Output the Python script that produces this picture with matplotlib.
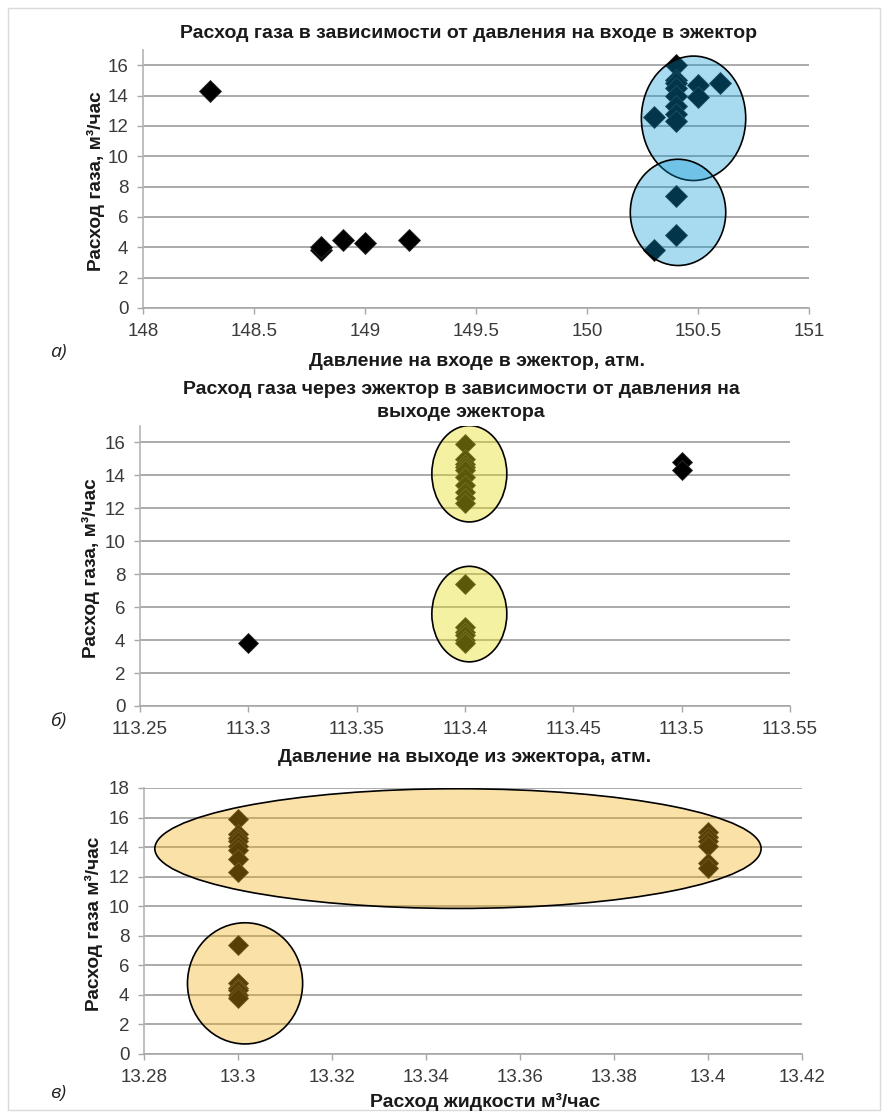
import matplotlib
matplotlib.use("Agg")
import matplotlib.pyplot as plt
from matplotlib.patches import Ellipse, Rectangle

# ---------------- data ----------------
# panel a: gas flow vs inlet pressure
a_x = [148.3, 148.8, 148.8, 148.9, 149.0, 149.2,
       150.3, 150.3,
       150.4, 150.4, 150.4, 150.4, 150.4, 150.4, 150.4, 150.4, 150.4, 150.4,
       150.5, 150.5, 150.6]
a_y = [14.3, 3.8, 4.0, 4.5, 4.3, 4.5,
       12.6, 3.8,
       16.0, 15.0, 14.8, 14.5, 14.0, 13.3, 12.8, 12.3, 7.4, 4.8,
       14.7, 13.9, 14.8]
a_xticks = [148, 148.5, 149, 149.5, 150, 150.5, 151]
a_xticklabels = ["148", "148.5", "149", "149.5", "150", "150.5", "151"]
a_yticks = [0, 2, 4, 6, 8, 10, 12, 14, 16]

# panel b: gas flow vs outlet pressure
b_x = [113.3, 113.5, 113.5,
       113.4, 113.4, 113.4, 113.4, 113.4, 113.4, 113.4, 113.4, 113.4, 113.4,
       113.4, 113.4, 113.4, 113.4, 113.4, 113.4]
b_y = [3.8, 14.8, 14.3,
       15.9, 15.0, 14.7, 14.5, 14.3, 13.9, 13.4, 13.0, 12.6, 12.3,
       7.4, 4.8, 4.5, 4.3, 4.0, 3.8]
b_xticks = [113.25, 113.3, 113.35, 113.4, 113.45, 113.5, 113.55]
b_xticklabels = ["113.25", "113.3", "113.35", "113.4", "113.45", "113.5", "113.55"]
b_yticks = [0, 2, 4, 6, 8, 10, 12, 14, 16]

# panel c: gas flow vs liquid flow
c_x = [13.3, 13.3, 13.3, 13.3, 13.3, 13.3, 13.3, 13.3,
       13.4, 13.4, 13.4, 13.4, 13.4, 13.4,
       13.3, 13.3, 13.3, 13.3, 13.3, 13.3]
c_y = [15.9, 14.9, 14.6, 14.4, 14.1, 13.8, 13.2, 12.3,
       15.0, 14.7, 14.4, 14.1, 12.9, 12.6,
       7.4, 4.8, 4.5, 4.3, 4.0, 3.8]
c_xticks = [13.28, 13.30, 13.32, 13.34, 13.36, 13.38, 13.40, 13.42]
c_xticklabels = ["13.28", "13.3", "13.32", "13.34", "13.36", "13.38", "13.4", "13.42"]
c_yticks = [0, 2, 4, 6, 8, 10, 12, 14, 16, 18]

# highlight ellipses (center x, center y, width, height)
a_ell = [(150.48, 12.5, 0.47, 8.2), (150.41, 6.3, 0.43, 7.0)]
b_ell = [(113.402, 14.1, 0.0346, 5.85), (113.402, 5.58, 0.0346, 5.8)]
c_ell = [(13.3468, 13.9, 0.129, 8.1), (13.3015, 4.78, 0.0245, 8.2)]

# ---------------- figure ----------------
W, H = 888, 1118
fig = plt.figure(figsize=(W / 100, H / 100), dpi=100)
plt.rcParams['font.family'] = ['Liberation Sans', 'DejaVu Sans']

fig.patches.append(Rectangle((8 / W, 1 - 1110 / H), 872 / W, 1102 / H,
                             transform=fig.transFigure, fill=False,
                             edgecolor='#dadada', linewidth=1.0))


def px_axes(left, right, top, bottom):
    return fig.add_axes([left / W, 1 - bottom / H, (right - left) / W, (bottom - top) / H])


def style(ax, xlim, ylim, xticks, xticklabels, yticks):
    ax.set_xlim(*xlim)
    ax.set_ylim(*ylim)
    ax.set_xticks(xticks)
    ax.set_xticklabels(xticklabels)
    ax.set_yticks(yticks)
    for s in ('top', 'right'):
        ax.spines[s].set_visible(False)
    ax.spines['left'].set_color('#b4b4b4')
    ax.spines['bottom'].set_color('#a8a8a8')
    ax.spines['left'].set_linewidth(1.2)
    ax.spines['bottom'].set_linewidth(1.2)
    ax.tick_params(axis='both', direction='out', length=4.5, width=1.0,
                   color='#a8a8a8', labelsize=13.5, labelcolor='#3a3a3a', pad=6)
    ax.yaxis.grid(True, color='#a4a4a4', linewidth=1.3)
    ax.set_axisbelow(True)


def draw(ax, xs, ys, ells, fc, ms):
    ax.plot(xs, ys, linestyle='none', marker='D', markersize=ms,
            color='black', markeredgecolor='#2a2a2a', markeredgewidth=0.6, zorder=3)
    for (cx, cy, w, h) in ells:
        ax.add_patch(Ellipse((cx, cy), w, h, facecolor=fc, edgecolor='black',
                             linewidth=1.2, zorder=4))


# panel a
ax1 = px_axes(143, 809, 50, 308)
style(ax1, (148, 151), (0, 17), a_xticks, a_xticklabels, a_yticks)
draw(ax1, a_x, a_y, a_ell, (0.03, 0.60, 0.83, 0.35), 11)

# panel b
ax2 = px_axes(140, 790, 426, 706)
style(ax2, (113.25, 113.55), (0, 17), b_xticks, b_xticklabels, b_yticks)
draw(ax2, b_x, b_y, b_ell, (0.90, 0.87, 0.10, 0.40), 10)

# panel c
ax3 = px_axes(144, 802, 788, 1054)
style(ax3, (13.28, 13.42), (0, 18), c_xticks, c_xticklabels, c_yticks)
draw(ax3, c_x, c_y, c_ell, (0.95, 0.68, 0.05, 0.36), 10)


def ftext(x, y, s, **kw):
    fig.text(x / W, 1 - y / H, s, ha='center', va='center', **kw)


tkw = dict(fontsize=14, fontweight='bold', color='#1a1a1a')
ftext(468, 33, "Расход газа в зависимости от давления на входе в эжектор", **tkw)
ftext(477, 361, "Давление на входе в эжектор, атм.", **tkw)
ftext(461, 390, "Расход газа через эжектор в зависимости от давления на", **tkw)
ftext(461, 413, "выходе эжектора", **tkw)
ftext(465, 758, "Давление на выходе из эжектора, атм.", **tkw)
ftext(485, 1102, "Расход жидкости м³/час", **tkw)

ykw = dict(fontsize=13.8, fontweight='bold', color='#1a1a1a', rotation=90)
ftext(96, 181, "Расход газа, м³/час", **ykw)
ftext(91, 568, "Расход газа, м³/час", **ykw)
ftext(94, 924, "Расход газа м³/час", **ykw)

lkw = dict(fontsize=14, style='italic', color='#222222', family=['Open Sans', 'DejaVu Sans'])
ftext(58, 352, "а)", **lkw)
ftext(58, 721, "б)", **lkw)
ftext(58, 1093, "в)", **lkw)

fig.savefig("out.png", dpi=100)
